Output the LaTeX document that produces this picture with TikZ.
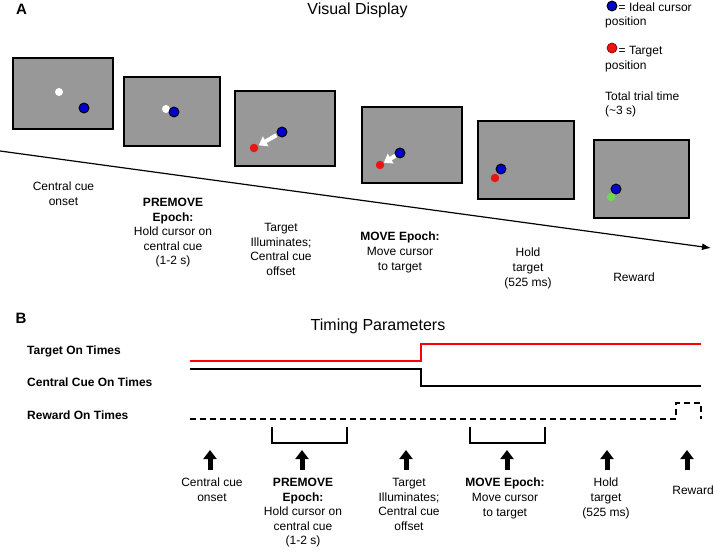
\documentclass[tikz,border=0pt]{standalone}
\usepackage{fontspec}
\setmainfont{Liberation Sans}
\usetikzlibrary{arrows.meta}
\definecolor{screengray}{RGB}{152,152,152}
\definecolor{cursorblue}{RGB}{0,0,205}
\definecolor{targetred}{RGB}{235,20,20}
\definecolor{rewardgreen}{RGB}{110,215,80}

\begin{document}
\begin{tikzpicture}[x=1pt, y=-1pt, font=\fontsize{12}{14.6}\selectfont,
    screen/.style = {draw, line width=1.3pt, fill=screengray},
    cursor/.style = {draw, circle, fill=cursorblue, line width=0.9pt, minimum size=10pt, inner sep=0pt},
    cue/.style = {circle, fill=white, minimum size=8pt, inner sep=0pt},
    tgt/.style = {circle, fill=targetred, minimum size=8.5pt, inner sep=0pt},
    rwd/.style = {circle, fill=rewardgreen, minimum size=8.5pt, inner sep=0pt},
    lbl/.style = {align=center, inner sep=0pt, anchor=north},
    txt/.style = {anchor=base west, inner sep=0pt},
    row/.style = {anchor=base west, inner sep=0pt, font=\fontsize{12}{14.6}\selectfont\bfseries},
    move/.style = {white, line width=4pt, -{Triangle[width=11pt,length=8pt]}, shorten <=1pt, shorten >=1pt},
    uparrow/.style = {line width=5pt, -{Triangle[width=13pt,length=9pt]}},
    trace/.style = {line width=1.3pt}]
    \useasboundingbox (0,0) rectangle (714,551);

    % panel A
    \node[anchor=base, font=\fontsize{15}{18}\selectfont\bfseries] (A) at (21.5,15) {A};
    \node[anchor=base, font=\fontsize{16}{19}\selectfont] (vis) at (357.5,15) {Visual Display};

    \draw[screen] (13,58) rectangle (113,129);
    \node[cue] (cue1) at (59,92) {};
    \node[cursor] (cur1) at (84,108) {};

    \draw[screen] (124,77) rectangle (220,146);
    \node[cue] (cue2) at (166,109) {};
    \node[cursor] (cur2) at (174,112) {};

    \draw[screen] (235,91) rectangle (335,166);
    \node[tgt] (tgt3) at (254,148) {};
    \node[cursor] (cur3) at (282,132) {};
    \draw[move] (cur3) -- (tgt3);

    \draw[screen] (362,107) rectangle (462,183);
    \node[tgt] (tgt4) at (380,165) {};
    \node[cursor] (cur4) at (400,153) {};
    \draw[move, shorten <=0pt, shorten >=0pt] (cur4) -- (tgt4);

    \draw[screen] (478,121) rectangle (574,199);
    \node[tgt] (tgt5) at (495,178) {};
    \node[cursor] (cur5) at (501,169) {};

    \draw[screen] (594,140) rectangle (689,218);
    \node[rwd] (rwd6) at (611,197) {};
    \node[cursor] (cur6) at (616,189) {};

    % legend
    \node[cursor] (key1) at (612,6) {};
    \node[txt] (k1) at (618.5,11.5) {= Ideal cursor};
    \node[txt] (k2) at (605,25.5) {position};
    \node[tgt, draw=red!55!black, line width=0.7pt, minimum size=10pt] (key2) at (612,48) {};
    \node[txt] (k3) at (618.5,55) {= Target};
    \node[txt] (k4) at (605,70) {position};
    \node[txt] (k5) at (605,100) {Total trial time};
    \node[txt] (k6) at (605,114) {(\textasciitilde3 s)};

    % time axis
    \coordinate (t0) at (0,151);
    \coordinate (t1) at (711,248);
    \draw[line width=1.2pt, -{Latex[length=9pt,width=7pt]}] (t0) -- (t1);

    \node[lbl] (a1) at (63.5,182) {Central cue\\onset};
    \node[lbl] (a2) at (173,198) {\textbf{PREMOVE}\\\textbf{Epoch:}\\Hold cursor on\\central cue\\(1-2 s)};
    \node[lbl] (a3) at (281,223) {Target\\Illuminates;\\Central cue\\offset};
    \node[lbl] (a4) at (400,232) {\textbf{MOVE Epoch:}\\Move cursor\\to target};
    \node[lbl] (a5) at (528,248) {Hold\\target\\(525 ms)};
    \node[lbl] (a6) at (634,273) {Reward};

    % panel B
    \node[anchor=base, font=\fontsize{15}{18}\selectfont\bfseries] (B) at (21,323) {B};
    \node[anchor=base, font=\fontsize{16}{19}\selectfont] (tim) at (378,330) {Timing Parameters};

    \node[row] (r1) at (27,354) {Target On Times};
    \node[row] (r2) at (27,386) {Central Cue On Times};
    \node[row] (r3) at (27,419) {Reward On Times};

    \draw[trace, red] (190,361) -- (421,361) -- (421,344) -- (701,344);
    \draw[trace] (190,369) -- (421,369) -- (421,386) -- (701,386);
    \draw[trace, dash pattern=on 6pt off 4pt] (190,419) -- (676,419) -- (676,403) -- (701,403) -- (701,419);

    \draw[line width=1.1pt] (272,427) -- (272,443) -- (347,443) -- (347,427);
    \draw[line width=1.1pt] (470,427) -- (470,443) -- (545,443) -- (545,427);

    \foreach \x [count=\i] in {210,302,406,507,607,687} {
        \coordinate (u\i) at (\x,470);
        \coordinate (v\i) at (\x,450);
        \draw[uparrow] (u\i) -- (v\i);
    }

    \node[lbl] (b1) at (212,478) {Central cue\\onset};
    \node[lbl] (b2) at (303,478) {\textbf{PREMOVE}\\\textbf{Epoch:}\\Hold cursor on\\central cue\\(1-2 s)};
    \node[lbl] (b3) at (409,478) {Target\\Illuminates;\\Central cue\\offset};
    \node[lbl] (b4) at (505,478) {\textbf{MOVE Epoch:}\\Move cursor\\to target};
    \node[lbl] (b5) at (606,478) {Hold\\target\\(525 ms)};
    \node[lbl] (b6) at (693,486) {Reward};
\end{tikzpicture}
\end{document}
